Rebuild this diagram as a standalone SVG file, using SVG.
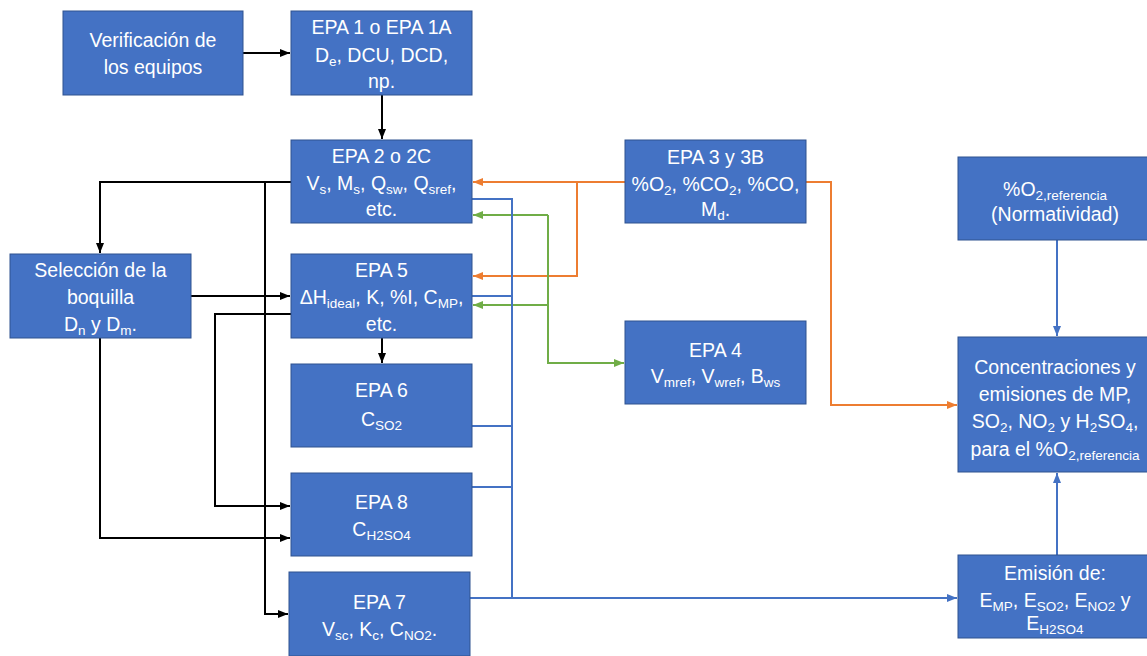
<svg xmlns="http://www.w3.org/2000/svg" width="1147" height="656" viewBox="0 0 1147 656">
<style>
.box{fill:#4472C4;stroke:#2F528F;stroke-width:1}
.t{font-family:"Liberation Sans",Arial,sans-serif;font-size:19.5px;fill:#fff;text-anchor:middle}
.s{font-size:13.5px}
.k{fill:none;stroke:#000;stroke-width:2}
.o{fill:none;stroke:#ED7D31;stroke-width:2}
.g{fill:none;stroke:#70AD47;stroke-width:2}
.b{fill:none;stroke:#4472C4;stroke-width:2}
</style>
<defs>
<marker id="mk" viewBox="0 0 10 10" refX="10" refY="5" markerWidth="10" markerHeight="10" markerUnits="userSpaceOnUse" orient="auto"><path d="M0,1 L10,5 L0,9z" fill="#000"/></marker>
<marker id="mo" viewBox="0 0 10 10" refX="10" refY="5" markerWidth="10" markerHeight="10" markerUnits="userSpaceOnUse" orient="auto"><path d="M0,1 L10,5 L0,9z" fill="#ED7D31"/></marker>
<marker id="mg" viewBox="0 0 10 10" refX="10" refY="5" markerWidth="10" markerHeight="10" markerUnits="userSpaceOnUse" orient="auto"><path d="M0,1 L10,5 L0,9z" fill="#70AD47"/></marker>
<marker id="mb" viewBox="0 0 10 10" refX="10" refY="5" markerWidth="10" markerHeight="10" markerUnits="userSpaceOnUse" orient="auto"><path d="M0,1 L10,5 L0,9z" fill="#4472C4"/></marker>
</defs>
<rect width="1147" height="656" fill="#fff"/>
<g id="connectors">
<path class="k" d="M243,53 H290" marker-end="url(#mk)"/>
<path class="k" d="M382,95 V139" marker-end="url(#mk)"/>
<path class="k" d="M291,182 H100 V253" marker-end="url(#mk)"/>
<path class="k" d="M265,182 V614 H288" marker-end="url(#mk)"/>
<path class="k" d="M191,296 H290" marker-end="url(#mk)"/>
<path class="k" d="M291,314 H215 V506 H290" marker-end="url(#mk)"/>
<path class="k" d="M100,338 V538 H290" marker-end="url(#mk)"/>
<path class="k" d="M382,338 V363" marker-end="url(#mk)"/>
<path class="o" d="M625,182 H473" marker-end="url(#mo)"/>
<path class="o" d="M577,182 V276 H473" marker-end="url(#mo)"/>
<path class="o" d="M806,182 H831 V405 H957" marker-end="url(#mo)"/>
<path class="g" d="M548,215 H473" marker-end="url(#mg)"/>
<path class="g" d="M548,305 H473" marker-end="url(#mg)"/>
<path class="g" d="M548,215 V363 H624" marker-end="url(#mg)"/>
<path class="b" d="M472,199 H512 V598"/>
<path class="b" d="M472,296 H512"/>
<path class="b" d="M472,426 H512"/>
<path class="b" d="M472,487 H512"/>
<path class="b" d="M470,598 H957" marker-end="url(#mb)"/>
<path class="b" d="M1057,240 V336" marker-end="url(#mb)"/>
<path class="b" d="M1057,555 V473" marker-end="url(#mb)"/>
</g>
<g id="verificacion">
<rect class="box" x="63" y="11" width="180" height="84"/>
<text class="t" x="153" y="47">Verificación de</text>
<text class="t" x="153" y="74">los equipos</text>
</g>
<g id="epa1">
<rect class="box" x="291" y="11" width="181" height="84"/>
<text class="t" x="381.5" y="34">EPA 1 o EPA 1A</text>
<text class="t" x="381.5" y="62">D<tspan class="s" dy="4">e</tspan><tspan dy="-4">, DCU, DCD,</tspan></text>
<text class="t" x="381.5" y="88">np.</text>
</g>
<g id="epa2">
<rect class="box" x="291" y="140" width="181" height="83"/>
<text class="t" x="381.5" y="163">EPA 2 o 2C</text>
<text class="t" x="381.5" y="190">V<tspan class="s" dy="4">s</tspan><tspan dy="-4">, M</tspan><tspan class="s" dy="4">s</tspan><tspan dy="-4">, Q</tspan><tspan class="s" dy="4">sw</tspan><tspan dy="-4">, Q</tspan><tspan class="s" dy="4">sref</tspan><tspan dy="-4">,</tspan></text>
<text class="t" x="381.5" y="216">etc.</text>
</g>
<g id="seleccion">
<rect class="box" x="10" y="254" width="181" height="84"/>
<text class="t" x="100.5" y="277">Selección de la</text>
<text class="t" x="100.5" y="304">boquilla</text>
<text class="t" x="100.5" y="331">D<tspan class="s" dy="4">n</tspan><tspan dy="-4"> y D</tspan><tspan class="s" dy="4">m</tspan><tspan dy="-4">.</tspan></text>
</g>
<g id="epa5">
<rect class="box" x="291" y="254" width="181" height="84"/>
<text class="t" x="381.5" y="277">EPA 5</text>
<text class="t" x="381.5" y="304">ΔH<tspan class="s" dy="4">ideal</tspan><tspan dy="-4">, K, %I, C</tspan><tspan class="s" dy="4">MP</tspan><tspan dy="-4">,</tspan></text>
<text class="t" x="381.5" y="331">etc.</text>
</g>
<g id="epa6">
<rect class="box" x="291" y="364" width="181" height="83"/>
<text class="t" x="381.5" y="397">EPA 6</text>
<text class="t" x="381.5" y="426">C<tspan class="s" dy="4">SO2</tspan></text>
</g>
<g id="epa8">
<rect class="box" x="291" y="473" width="181" height="83"/>
<text class="t" x="381.5" y="509">EPA 8</text>
<text class="t" x="381.5" y="536">C<tspan class="s" dy="4">H2SO4</tspan></text>
</g>
<g id="epa7">
<rect class="box" x="289" y="572" width="181" height="84"/>
<text class="t" x="379.5" y="609">EPA 7</text>
<text class="t" x="379.5" y="636">V<tspan class="s" dy="4">sc</tspan><tspan dy="-4">, K</tspan><tspan class="s" dy="4">c</tspan><tspan dy="-4">, C</tspan><tspan class="s" dy="4">NO2</tspan><tspan dy="-4">.</tspan></text>
</g>
<g id="epa3">
<rect class="box" x="625" y="140" width="181" height="83"/>
<text class="t" x="715.5" y="164">EPA 3 y 3B</text>
<text class="t" x="715.5" y="191">%O<tspan class="s" dy="4">2</tspan><tspan dy="-4">, %CO</tspan><tspan class="s" dy="4">2</tspan><tspan dy="-4">, %CO,</tspan></text>
<text class="t" x="715.5" y="216">M<tspan class="s" dy="4">d</tspan><tspan dy="-4">.</tspan></text>
</g>
<g id="epa4">
<rect class="box" x="625" y="321" width="181" height="83"/>
<text class="t" x="715.5" y="357">EPA 4</text>
<text class="t" x="715.5" y="383">V<tspan class="s" dy="4">mref</tspan><tspan dy="-4">, V</tspan><tspan class="s" dy="4">wref</tspan><tspan dy="-4">, B</tspan><tspan class="s" dy="4">ws</tspan></text>
</g>
<g id="o2ref">
<rect class="box" x="958" y="157" width="192" height="83"/>
<text class="t" x="1055" y="196">%O<tspan class="s" dy="4">2,referencia</tspan></text>
<text class="t" x="1055" y="221">(Normatividad)</text>
</g>
<g id="concentraciones">
<rect class="box" x="958" y="337" width="192" height="135"/>
<text class="t" x="1055" y="374">Concentraciones y</text>
<text class="t" x="1055" y="401">emisiones de MP,</text>
<text class="t" x="1055" y="428">SO<tspan class="s" dy="4">2</tspan><tspan dy="-4">, NO</tspan><tspan class="s" dy="4">2</tspan><tspan dy="-4"> y H</tspan><tspan class="s" dy="4">2</tspan><tspan dy="-4">SO</tspan><tspan class="s" dy="4">4</tspan><tspan dy="-4">,</tspan></text>
<text class="t" x="1055" y="456">para el %O<tspan class="s" dy="4">2,referencia</tspan></text>
</g>
<g id="emision">
<rect class="box" x="958" y="555" width="192" height="83"/>
<text class="t" x="1055" y="580">Emisión de:</text>
<text class="t" x="1055" y="607">E<tspan class="s" dy="4">MP</tspan><tspan dy="-4">, E</tspan><tspan class="s" dy="4">SO2</tspan><tspan dy="-4">, E</tspan><tspan class="s" dy="4">NO2</tspan><tspan dy="-4"> y</tspan></text>
<text class="t" x="1055" y="630">E<tspan class="s" dy="4">H2SO4</tspan></text>
</g>
</svg>
